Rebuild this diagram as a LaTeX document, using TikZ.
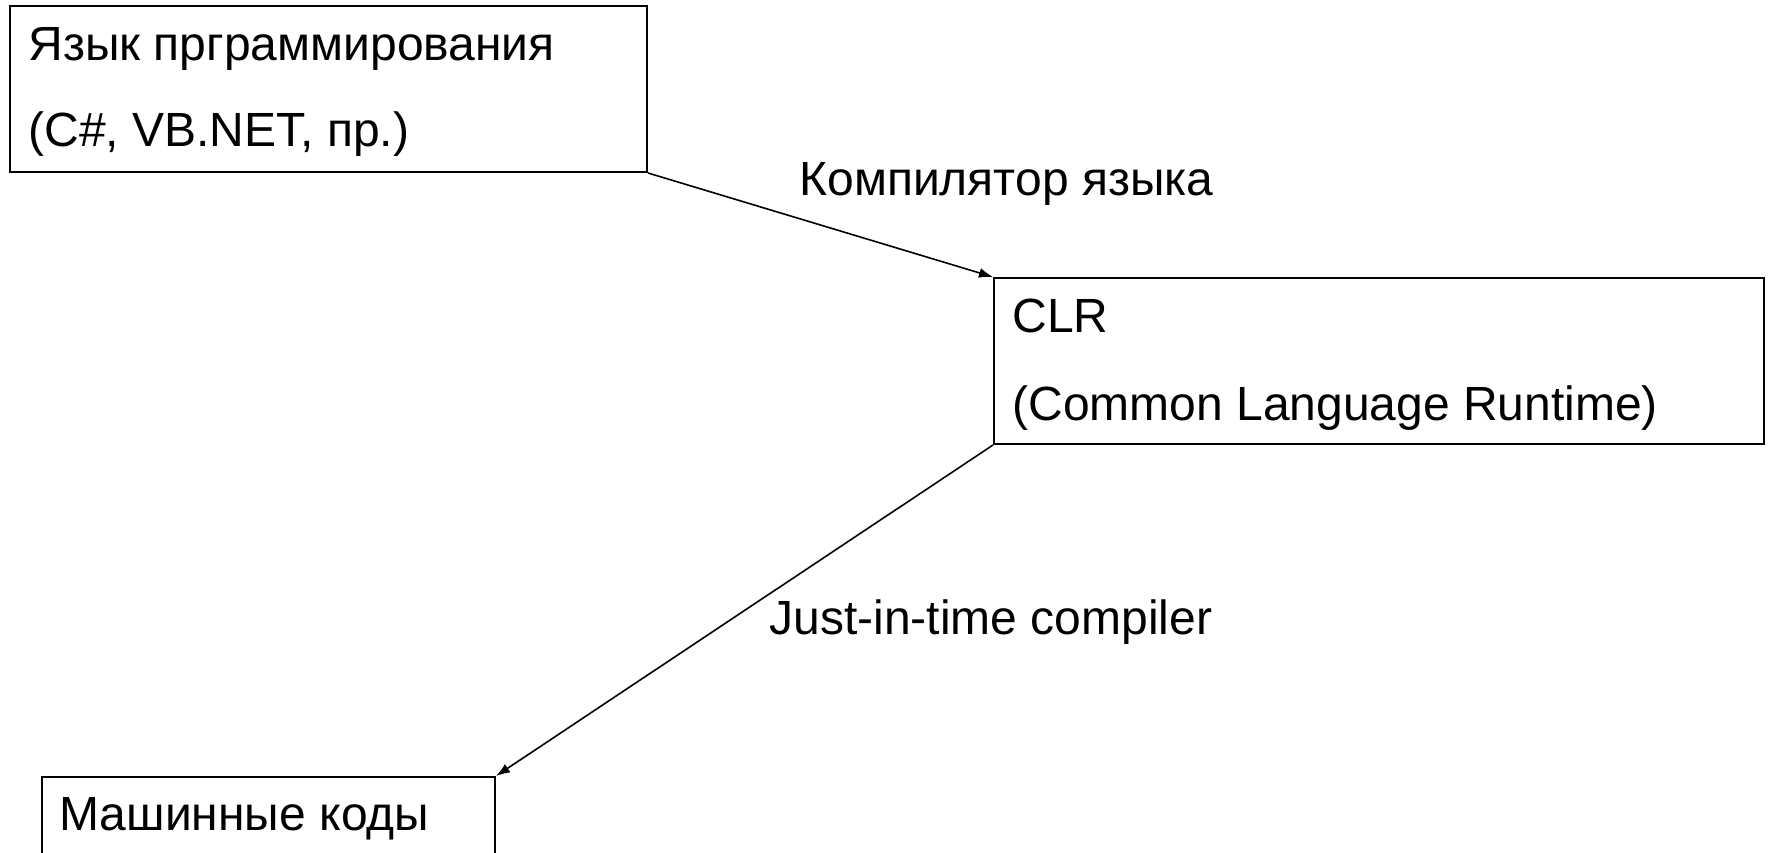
\documentclass[tikz,border=0pt]{standalone}
\usepackage{fontspec}
\setmainfont{Liberation Sans}
\usetikzlibrary{arrows.meta}
\begin{document}
\begin{tikzpicture}[x=0.5pt,y=-0.5pt,
  box/.style={draw=black, line width=1pt, rectangle, inner sep=0pt, anchor=north west},
  txt/.style={anchor=base west, inner sep=0pt, font=\fontsize{24}{43}\selectfont},
  conn/.style={draw=black, line width=0.8pt, -{Latex[length=7pt,width=5pt]}}]
\useasboundingbox (0,0) rectangle (1770,852);
\clip (0,0) rectangle (1770,852);
\fill[white] (0,0) rectangle (1770,852);
\node[box, minimum width=318.5pt, minimum height=83.25pt] (lang) at (9,4.5) {};
\node[box, minimum width=385pt, minimum height=83pt] (clr) at (993,277) {};
\node[box, minimum width=226.5pt, minimum height=70pt] (mach) at (41,776) {};
\node[txt] (t1a) at (28,60) {Язык прграммирования};
\node[txt] (t1b) at (28,146) {(C\#, VB.NET, пр.)};
\node[txt] (t2a) at (1012,332) {CLR};
\node[txt] (t2b) at (1012,420) {(Common Language Runtime)};
\node[txt] (t3) at (59,830) {Машинные коды};
\node[txt] (l1) at (799,195) {Компилятор языка};
\node[txt] (l2) at (769,634) {Just-in-time compiler};
\draw[conn] (lang.south east) -- (clr.north west);
\draw[conn] (clr.south west) -- (mach.north east);
\end{tikzpicture}
\end{document}
